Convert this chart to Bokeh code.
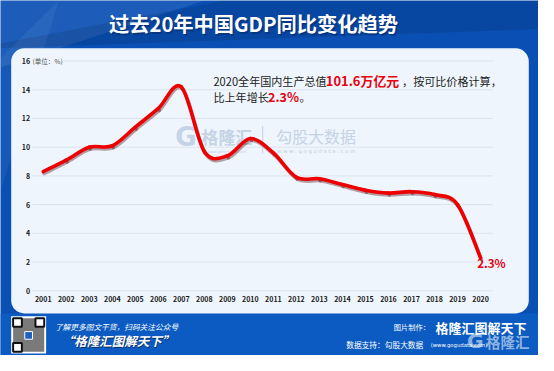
import numpy as np
from bokeh.plotting import figure
from bokeh.models import Range1d, BoxAnnotation, Label
from bokeh.core.properties import value
from bokeh.embed import file_html
from bokeh.resources import INLINE

# ---------------- data ----------------
years = [2001, 2002, 2003, 2004, 2005, 2006, 2007, 2008, 2009, 2010,
         2011, 2012, 2013, 2014, 2015, 2016, 2017, 2018, 2019, 2020]
gdp_growth = [8.3, 9.1, 10.0, 10.1, 11.4, 12.7, 14.2, 9.7, 9.4, 10.6,
              9.6, 7.9, 7.8, 7.4, 7.0, 6.8, 6.9, 6.7, 6.0, 2.3]
y_ticks = [0, 2, 4, 6, 8, 10, 12, 14, 16]
year_labels = [str(y) for y in years]
title_text = "过去20年中国GDP同比变化趋势"
last_label = "2.3%"

# ---------------- layout (reference pixel space 554 x 371) ----------------
W, H = 538, 355
REF_W, REF_H = 554, 371
SC = (W / REF_W + H / REF_H) / 2
FONT = "Noto Sans CJK SC"

X_FIRST_PX, X_LAST_PX = 44.0, 494.3
PX_PER_YEAR = (X_LAST_PX - X_FIRST_PX) / (years[-1] - years[0])
Y_ZERO_PX, PX_PER_PCT = 303.3, 15.0

yr_start = years[0] - X_FIRST_PX / PX_PER_YEAR
yr_end = years[0] + (REF_W - X_FIRST_PX) / PX_PER_YEAR
pct_start = (Y_ZERO_PX - REF_H) / PX_PER_PCT
pct_end = Y_ZERO_PX / PX_PER_PCT

p = figure(width=W, height=H, output_backend="svg", toolbar_location=None,
           x_range=Range1d(yr_start, yr_end), y_range=Range1d(pct_start, pct_end),
           x_axis_location=None, y_axis_location=None, min_border=0)
p.min_border_left = p.min_border_right = p.min_border_top = p.min_border_bottom = 0
p.grid.visible = False
p.outline_line_color = None
BLUE = "#0A50B4"
p.background_fill_color = BLUE
p.border_fill_color = BLUE

p.extra_x_ranges = {
    "px": Range1d(0, REF_W),
    "xs": Range1d(yr_start - 1.0 / PX_PER_YEAR, yr_end - 1.0 / PX_PER_YEAR),
}
p.extra_y_ranges = {
    "py": Range1d(REF_H, 0),
    "ys": Range1d(pct_start + 2.0 / PX_PER_PCT, pct_end + 2.0 / PX_PER_PCT),
}

def txt(x, y, s, size, color, style="normal", align="left", baseline="middle",
        alpha=1.0, font=FONT, xr="px", yr="py"):
    p.text(x=[x], y=[y], text=[s], x_range_name=xr, y_range_name=yr,
           text_font=value(font), text_font_size=f"{size * SC:.2f}px",
           text_font_style=style, text_color=color, text_align=align,
           text_baseline=baseline, text_alpha=alpha)

# ---------------- background decoration ----------------
p.patch(x=[0, 210, 0], y=[0, 0, 70], x_range_name="px", y_range_name="py",
        fill_color="white", fill_alpha=0.08, line_color=None, level="image")
p.patch(x=[230, 554, 554, 0, 0], y=[0, 0, 30, 50, 45], x_range_name="px", y_range_name="py",
        fill_color="black", fill_alpha=0.10, line_color=None, level="image")
p.patch(x=[0, 60, 0], y=[60, 0, 200], x_range_name="px", y_range_name="py",
        fill_color="white", fill_alpha=0.05, line_color=None, level="image")
p.quad(left=[0], right=[REF_W], top=[327], bottom=[REF_H], x_range_name="px", y_range_name="py",
       fill_color="#0B5BC2", line_color=None, level="image")

panel = BoxAnnotation(left=11, right=544, top=50, bottom=327,
                      x_range_name="px", y_range_name="py",
                      fill_color="#EEF5FC", fill_alpha=1.0, line_color=None,
                      border_radius=13, level="underlay")
p.add_layout(panel)

# ---------------- title ----------------
txt(262, 26, title_text, 21, "#062a6e", style="bold", align="center", alpha=0.6)
txt(260.5, 24.5, title_text, 21, "white", style="bold", align="center")

# ---------------- watermark ----------------
WM = "#c4d3e5"
txt(191, 143, "G", 27, WM, style="bold", align="center", font="DejaVu Sans")
txt(207, 142, "格隆汇", 17.5, WM, style="bold")
txt(233, 157.5, "www.gelonghui.com", 4, WM, align="center", font="DejaVu Sans")
p.segment(x0=[270], x1=[270], y0=[131], y1=[160], x_range_name="px", y_range_name="py",
          line_color=WM, line_width=1)
txt(284, 142, "勾股大数据", 16.5, WM)
txt(325, 157.5, "w w w . g o g u d a t a . c o m", 5.5, WM, align="center", font="DejaVu Sans")

# ---------------- grid & ticks ----------------
p.segment(x0=[33] * len(y_ticks), x1=[507] * len(y_ticks), y0=y_ticks, y1=y_ticks,
          x_range_name="px", line_color="#dce4ee", line_width=1)
p.text(x=[30.5] * len(y_ticks), y=y_ticks, text=[str(t) for t in y_ticks],
       x_range_name="px", text_font=value(FONT), text_font_size=f"{7.3 * SC:.2f}px",
       text_font_style="bold", text_color="#1a1a1a", text_align="right", text_baseline="middle")
unit = Label(x=33, y=63, text="(单位：%)", x_range_name="px", y_range_name="py",
             text_font=FONT, text_font_size=f"{6.8 * SC:.2f}px", text_color="#555555",
             text_baseline="middle", background_fill_color="#EEF5FC")
p.add_layout(unit)
p.text(x=years, y=[312] * len(years), text=year_labels, y_range_name="py",
       text_font=value(FONT), text_font_size=f"{7.3 * SC:.2f}px", text_font_style="bold",
       text_color="#1a1a1a", text_align="center", text_baseline="middle")

# ---------------- smooth line (Catmull-Rom -> cubic Bezier) ----------------
xs = np.array(years, dtype=float)
ys = np.array(gdp_growth, dtype=float)
n = len(xs)
x0, y0, x1, y1, cx0, cy0, cx1, cy1 = ([] for _ in range(8))
for i in range(n - 1):
    a = i - 1 if i > 0 else i
    d = i + 2 if i + 2 < n else i + 1
    x0.append(xs[i]); y0.append(ys[i]); x1.append(xs[i + 1]); y1.append(ys[i + 1])
    cx0.append(xs[i] + (xs[i + 1] - xs[a]) / 6); cy0.append(ys[i] + (ys[i + 1] - ys[a]) / 6)
    cx1.append(xs[i + 1] - (xs[d] - xs[i]) / 6); cy1.append(ys[i + 1] - (ys[d] - ys[i]) / 6)

p.bezier(x0=x0, y0=y0, x1=x1, y1=y1, cx0=cx0, cy0=cy0, cx1=cx1, cy1=cy1,
         x_range_name="xs", y_range_name="ys", line_color="#3a0000", line_alpha=0.35,
         line_width=3.6, line_cap="round")
p.bezier(x0=x0, y0=y0, x1=x1, y1=y1, cx0=cx0, cy0=cy0, cx1=cx1, cy1=cy1,
         line_color="#EE0000", line_width=3.6, line_cap="round")

# ---------------- annotations ----------------
DARK = "#222222"
RED = "#E8000F"
txt(219.3, 84.3, "2020全年国内生产总值", 11.5, DARK)
txt(335.0, 83.8, "101.6万亿元", 13.4, RED, style="bold")
txt(413.5, 84.3, "，按可比价格计算，", 11.5, DARK)
txt(219.3, 101.3, "比上年增长", 11.5, DARK)
txt(275.5, 100.8, "2.3%", 13.0, RED, style="bold")
txt(308.0, 101.3, "。", 11.5, DARK)
txt(505.5, 274.3, last_label, 12.0, RED, style="bold", align="center")

# ---------------- footer ----------------
p.quad(left=[11], right=[47], top=[330], bottom=[369], x_range_name="px", y_range_name="py",
       fill_color="white", line_color=None)
p.quad(left=[13], right=[45], top=[332], bottom=[367], x_range_name="px", y_range_name="py",
       fill_color="#7a7a7a", line_color=None)
for fx, fy in [(13, 332), (36, 332), (13, 358)]:
    p.quad(left=[fx], right=[fx + 9], top=[fy], bottom=[fy + 9], x_range_name="px", y_range_name="py",
           fill_color="white", line_color="#111111", line_width=2)
p.quad(left=[25], right=[33], top=[346], bottom=[354], x_range_name="px", y_range_name="py",
       fill_color="#1f5fbf", line_color="white", line_width=1)

txt(56, 340.7, "了解更多图文干货，扫码关注公众号", 8, "white", style="italic")
txt(63.8, 356, "“格隆汇图解天下”", 13, "#0a2a60", style="bold italic")
txt(63, 355, "“格隆汇图解天下”", 13, "white", style="bold italic")

txt(405, 341, "图片制作：", 7.5, "white")
txt(448, 341.5, "格隆汇图解天下", 13.5, "white", style="bold")
txt(356, 360, "数据支持：勾股大数据", 8, "white")
txt(443, 360.5, "(www.gogudata.com)", 5.5, "white", font="DejaVu Sans")
txt(489, 356, "G", 21, "white", style="bold", align="center", alpha=0.55, font="DejaVu Sans")
txt(500, 356, "格隆汇", 15, "white", style="bold", alpha=0.55)

open("out.html", "w").write(file_html(p, INLINE))
